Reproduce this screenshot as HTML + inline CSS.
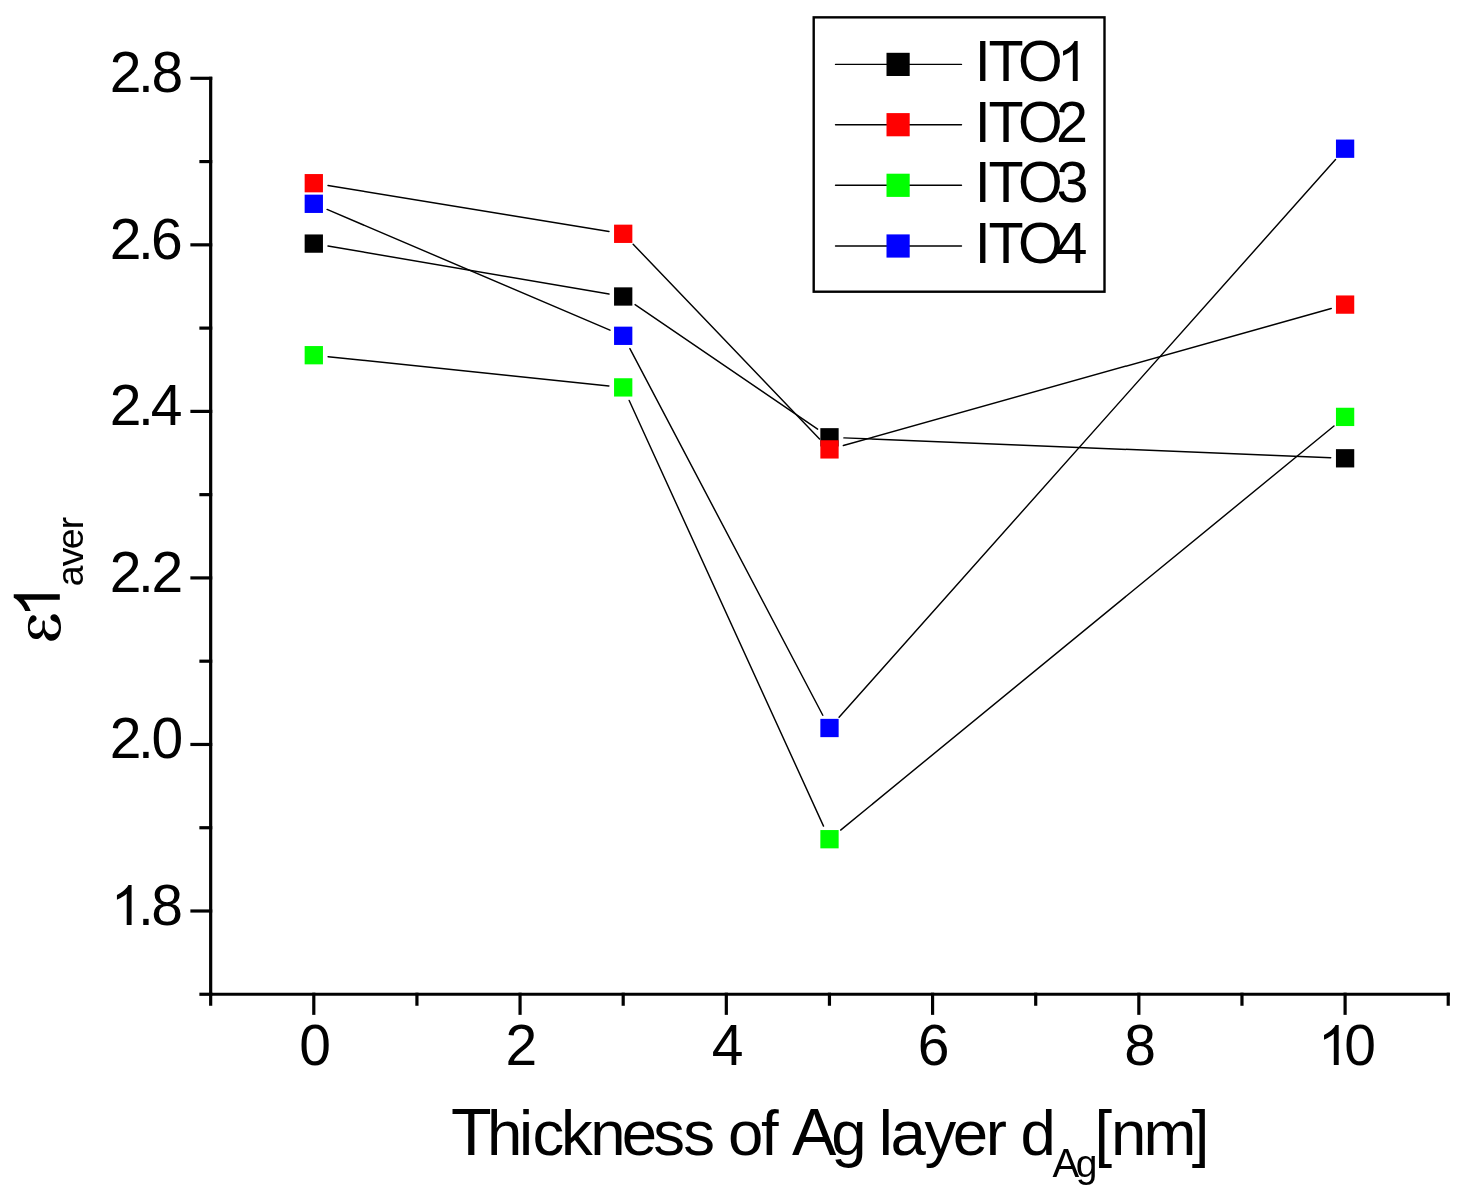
<!DOCTYPE html>
<html><head><meta charset="utf-8"><title>chart</title><style>
html,body{margin:0;padding:0;background:#fff;}
svg{display:block;}
text{font-family:"Liberation Sans",sans-serif;fill:#000;}
</style></head><body>
<svg width="1470" height="1198" viewBox="0 0 1470 1198" role="img" aria-label="ε1 aver versus Thickness of Ag layer dAg [nm] for ITO1, ITO2, ITO3, ITO4">
<title>ε1 aver versus Thickness of Ag layer dAg [nm]: ITO1, ITO2, ITO3, ITO4</title>
<rect width="1470" height="1198" fill="#fff"/>
<g opacity="0.999">
<g stroke="#000" stroke-width="3.2">
<line x1="210.67" y1="76.70" x2="210.67" y2="994.27"/>
<line x1="210.67" y1="994.27" x2="1449.83" y2="994.27"/>
<line x1="190.37" y1="78.30" x2="212.27" y2="78.30"/>
<line x1="199.37" y1="161.57" x2="212.27" y2="161.57"/>
<line x1="190.37" y1="244.84" x2="212.27" y2="244.84"/>
<line x1="199.37" y1="328.11" x2="212.27" y2="328.11"/>
<line x1="190.37" y1="411.38" x2="212.27" y2="411.38"/>
<line x1="199.37" y1="494.65" x2="212.27" y2="494.65"/>
<line x1="190.37" y1="577.92" x2="212.27" y2="577.92"/>
<line x1="199.37" y1="661.19" x2="212.27" y2="661.19"/>
<line x1="190.37" y1="744.46" x2="212.27" y2="744.46"/>
<line x1="199.37" y1="827.73" x2="212.27" y2="827.73"/>
<line x1="190.37" y1="911.00" x2="212.27" y2="911.00"/>
<line x1="199.37" y1="994.27" x2="212.27" y2="994.27"/>
<line x1="210.67" y1="992.67" x2="210.67" y2="1005.77"/>
<line x1="313.80" y1="992.67" x2="313.80" y2="1014.87"/>
<line x1="416.93" y1="992.67" x2="416.93" y2="1005.77"/>
<line x1="520.06" y1="992.67" x2="520.06" y2="1014.87"/>
<line x1="623.19" y1="992.67" x2="623.19" y2="1005.77"/>
<line x1="726.32" y1="992.67" x2="726.32" y2="1014.87"/>
<line x1="829.45" y1="992.67" x2="829.45" y2="1005.77"/>
<line x1="932.58" y1="992.67" x2="932.58" y2="1014.87"/>
<line x1="1035.71" y1="992.67" x2="1035.71" y2="1005.77"/>
<line x1="1138.84" y1="992.67" x2="1138.84" y2="1014.87"/>
<line x1="1241.97" y1="992.67" x2="1241.97" y2="1005.77"/>
<line x1="1345.10" y1="992.67" x2="1345.10" y2="1014.87"/>
<line x1="1448.23" y1="992.67" x2="1448.23" y2="1005.77"/>
</g>
<g stroke="#000" stroke-width="1.45" stroke-linecap="round">
<line x1="327.99" y1="246.03" x2="609.01" y2="294.07"/>
<line x1="635.09" y1="304.62" x2="817.61" y2="429.18"/>
<line x1="843.89" y1="437.89" x2="1330.71" y2="457.71"/>
<line x1="328.01" y1="185.52" x2="608.99" y2="231.48"/>
<line x1="633.16" y1="244.20" x2="819.54" y2="439.00"/>
<line x1="843.36" y1="445.51" x2="1331.24" y2="308.49"/>
<line x1="328.12" y1="356.69" x2="608.88" y2="385.91"/>
<line x1="629.18" y1="400.50" x2="823.52" y2="826.10"/>
<line x1="840.64" y1="830.08" x2="1333.96" y2="426.02"/>
<line x1="327.04" y1="209.45" x2="609.96" y2="330.15"/>
<line x1="629.90" y1="348.54" x2="822.80" y2="715.26"/>
<line x1="839.07" y1="717.24" x2="1335.53" y2="159.46"/>
</g>
<rect x="304.65" y="234.45" width="18.3" height="18.3" fill="#000000"/>
<rect x="614.05" y="287.35" width="18.3" height="18.3" fill="#000000"/>
<rect x="820.35" y="428.15" width="18.3" height="18.3" fill="#000000"/>
<rect x="1335.95" y="449.15" width="18.3" height="18.3" fill="#000000"/>
<rect x="304.65" y="174.05" width="18.3" height="18.3" fill="#ff0000"/>
<rect x="614.05" y="224.65" width="18.3" height="18.3" fill="#ff0000"/>
<rect x="820.35" y="440.25" width="18.3" height="18.3" fill="#ff0000"/>
<rect x="1335.95" y="295.45" width="18.3" height="18.3" fill="#ff0000"/>
<rect x="304.65" y="346.05" width="18.3" height="18.3" fill="#00ff00"/>
<rect x="614.05" y="378.25" width="18.3" height="18.3" fill="#00ff00"/>
<rect x="820.35" y="830.05" width="18.3" height="18.3" fill="#00ff00"/>
<rect x="1335.95" y="407.75" width="18.3" height="18.3" fill="#00ff00"/>
<rect x="304.65" y="194.65" width="18.3" height="18.3" fill="#0000ff"/>
<rect x="614.05" y="326.65" width="18.3" height="18.3" fill="#0000ff"/>
<rect x="820.35" y="718.85" width="18.3" height="18.3" fill="#0000ff"/>
<rect x="1335.95" y="139.55" width="18.3" height="18.3" fill="#0000ff"/>
<rect x="813.7" y="17.35" width="290.8" height="274.35" fill="none" stroke="#000" stroke-width="2.4"/>
<line x1="835.5" y1="64.40" x2="961.5" y2="64.40" stroke="#000" stroke-width="1.4" stroke-linecap="round"/>
<rect x="886.50" y="52.80" width="23.2" height="23.2" fill="#000000"/>
<text y="81.00"><tspan x="974.76 988.40 1018.05" style="font-size:57.5px">ITO</tspan></text>
<path d="M763 0L583 0L583 1147Q518 1085 465 1054Q412 1023 360 992Q307 961 223 930L223 1104Q374 1175 431 1226Q487 1276 544 1327Q600 1377 647 1472L763 1472Z" transform="translate(1056.97,81.00) scale(0.02715,-0.02715)"/>
<line x1="835.5" y1="124.70" x2="961.5" y2="124.70" stroke="#000" stroke-width="1.4" stroke-linecap="round"/>
<rect x="886.50" y="113.10" width="23.2" height="23.2" fill="#ff0000"/>
<text y="141.90"><tspan x="974.76 988.40 1018.05 1055.91" style="font-size:57.5px">ITO2</tspan></text>
<line x1="835.5" y1="185.30" x2="961.5" y2="185.30" stroke="#000" stroke-width="1.4" stroke-linecap="round"/>
<rect x="886.50" y="173.70" width="23.2" height="23.2" fill="#00ff00"/>
<text y="201.90"><tspan x="974.76 988.40 1018.05 1056.43" style="font-size:57.5px">ITO3</tspan></text>
<line x1="835.5" y1="246.00" x2="961.5" y2="246.00" stroke="#000" stroke-width="1.4" stroke-linecap="round"/>
<rect x="886.50" y="234.40" width="23.2" height="23.2" fill="#0000ff"/>
<text y="263.00"><tspan x="974.76 988.40 1018.05 1055.44" style="font-size:57.5px">ITO4</tspan></text>
<text y="92.20"><tspan x="109.85 137.98 151.45" style="font-size:57px">2.8</tspan></text>
<text y="258.74"><tspan x="109.85 137.98 151.05" style="font-size:57px">2.6</tspan></text>
<text y="425.28"><tspan x="109.85 137.98 150.63" style="font-size:57px">2.4</tspan></text>
<text y="591.82"><tspan x="109.85 137.98 151.45" style="font-size:57px">2.2</tspan></text>
<text y="758.36"><tspan x="109.85 137.98 151.50" style="font-size:57px">2.0</tspan></text>
<text y="924.90"><tspan x="137.98 151.35" style="font-size:57px">.8</tspan></text>
<path d="M763 0L583 0L583 1147Q518 1085 465 1054Q412 1023 360 992Q307 961 223 930L223 1104Q374 1175 431 1226Q487 1276 544 1327Q600 1377 647 1472L763 1472Z" transform="translate(110.87,924.90) scale(0.02715,-0.02715)"/>
<text y="1064.9"><tspan x="299.15" style="font-size:57px">0</tspan></text>
<text y="1064.9"><tspan x="505.41" style="font-size:57px">2</tspan></text>
<text y="1064.9"><tspan x="711.85" style="font-size:57px">4</tspan></text>
<text y="1064.9"><tspan x="917.73" style="font-size:57px">6</tspan></text>
<text y="1064.9"><tspan x="1124.19" style="font-size:57px">8</tspan></text>
<path d="M763 0L583 0L583 1147Q518 1085 465 1054Q412 1023 360 992Q307 961 223 930L223 1104Q374 1175 431 1226Q487 1276 544 1327Q600 1377 647 1472L763 1472Z" transform="translate(1317.97,1064.90) scale(0.02715,-0.02715)"/>
<text y="1064.9"><tspan x="1344.25" style="font-size:57px">0</tspan></text>
<text y="1155"><tspan x="451.06" style="font-size:66.5px">T</tspan><tspan x="486.90 519.01 532.41 560.94 590.25 621.75 653.34 683.14 712.50 728.04 761.03 780.00" style="font-size:63.5px">hickness of </tspan><tspan x="792.07" style="font-size:66.5px">A</tspan><tspan x="831.26 864.00 878.83 890.39 924.46 952.75 985.80 1007.00 1020.46" style="font-size:63.5px">g layer d</tspan><tspan x="1052.51" y="1176.70" style="font-size:40px">A</tspan><tspan x="1075.84" style="font-size:39px">g</tspan><tspan x="1094.61 1110.95 1143.44 1191.69" y="1155.00" style="font-size:63.5px">[nm]</tspan></text>
<g transform="translate(59.8,650.0) rotate(-90)">
<path d="M763 0L583 0L583 1147Q518 1085 465 1054Q412 1023 360 992Q307 961 223 930L223 1104Q374 1175 431 1226Q487 1276 544 1327Q600 1377 647 1472L763 1472Z" transform="translate(31.92,0.00) scale(0.03130,-0.03130)"/>
<text y="23.2"><tspan x="63.68 83.88 100.66 120.72" style="font-size:37.5px">aver</tspan></text>
</g>
<path d="M33.1 615.2C35.2 615.2 36.6 616.8 36.6 618.6C36.6 620.3 35.4 621.3 33.6 622.0C31.4 622.8 29.9 624.4 29.9 627.2C29.9 631.2 32.6 633.4 36.0 633.4C39.6 633.4 42.3 630.9 42.4 627.0C42.5 624.6 42.1 623.0 42.4 621.8C42.6 620.9 43.0 620.6 43.6 620.6C44.2 620.6 44.6 620.9 44.8 621.8C45.1 623.0 44.7 624.6 44.8 627.0C45.0 631.6 48.2 634.3 51.9 634.3C56.0 634.3 58.8 631.5 58.8 627.6C58.8 624.1 57.3 622.8 54.9 621.8C52.3 620.8 50.4 619.7 50.4 617.4C50.4 615.7 52.0 614.3 54.2 614.3C58.2 614.3 61.0 620.0 61.0 627.6C61.0 635.4 57.0 640.8 51.6 640.8C47.6 640.8 44.8 637.0 43.6 632.4C42.4 636.4 39.6 639.0 36.0 639.0C31.0 639.0 27.9 634.0 27.9 627.2C27.9 620.4 30.2 615.2 33.1 615.2Z"/>
</g>
</svg></body></html>
